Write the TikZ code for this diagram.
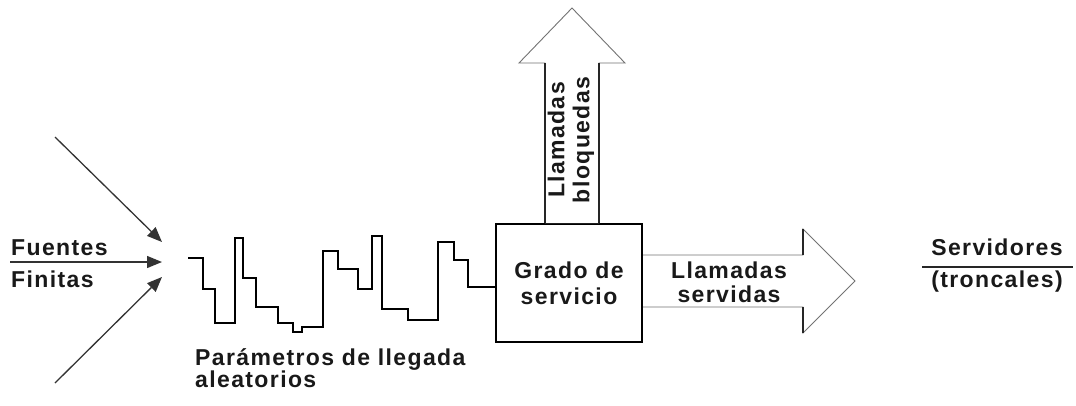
\documentclass[tikz,border=0pt]{standalone}
\usepackage{fontspec}
\setmainfont{Liberation Sans}
\newfontfamily\lblfont[LetterSpace=6]{Liberation Sans}
\usetikzlibrary{arrows.meta}
\begin{document}
\begin{tikzpicture}[x=1pt,y=-1pt,
  lbl/.style={font=\lblfont\fontsize{23}{26}\selectfont\bfseries, inner sep=0pt, text=black!90},
  feed/.style={draw=black!80, line width=1.3pt, -{Triangle[length=15pt,width=12pt]}},
  bigarrow/.style={draw=black!55, line width=0.9pt, fill=white},
  wave/.style={draw=black, line width=2pt, line join=miter}]
\useasboundingbox (0,0) rectangle (1076,405);

% Box
\node[draw=black, line width=2pt, minimum width=146pt, minimum height=118pt, inner sep=0pt,
      align=center, font=\lblfont\fontsize{23}{26}\selectfont\bfseries, text=black!90] (box) at (569,283) {Grado de\\servicio};

% Up arrow (blocked calls)
\draw[bigarrow] (box.north -| 545,0) -- (545,63) -- (519,63) -- (572,8) -- (625,63) -- (599,63) -- (box.north -| 599,0);
\draw[draw=black!85, line width=1.4pt] (box.north -| 545,0) -- (545,63) (box.north -| 599,0) -- (599,63);
\node[lbl, rotate=90, align=center, font=\lblfont\fontsize{23}{25}\selectfont\bfseries] (blq) at (571,140) {Llamadas\\bloquedas};

% Right arrow (served calls)
\draw[bigarrow] (box.east |- 0,255) -- (803,255) -- (803,229) -- (855,281) -- (803,333) -- (803,307) -- (box.east |- 0,307);
\draw[draw=black!85, line width=1.4pt] (803,255) -- (803,229) (803,307) -- (803,333);
\node[lbl, anchor=base] (ll1) at (729,278) {Llamadas};
\node[lbl, anchor=base] (ll2) at (729,302) {servidas};

% Sources
\coordinate (t1) at (162,242);
\coordinate (t2) at (162,262);
\coordinate (t3) at (162,277);
\coordinate (s1) at (55,137);
\coordinate (s2) at (10,262);
\coordinate (s3) at (55,383);
\draw[feed] (s1) -- (t1);
\draw[feed] (s2) -- (t2);
\draw[feed] (s3) -- (t3);
\node[lbl, anchor=base west] (fu) at (11,255) {Fuentes};
\node[lbl, anchor=base west] (fi) at (11,287) {Finitas};

% Random arrival waveform
\coordinate (w0) at (188,258);
\draw[wave] (w0) -- (203,258) -- (203,289) -- (215,289) -- (215,323) -- (235,323)
  -- (235,238) -- (243,238) -- (243,278) -- (256,278) -- (256,307) -- (278,307)
  -- (278,323) -- (293,323) -- (293,332) -- (302,332) -- (302,327) -- (323,327)
  -- (323,251) -- (338,251) -- (338,269) -- (358,269) -- (358,289) -- (372,289)
  -- (372,236) -- (382,236) -- (382,309) -- (408,309) -- (408,320) -- (438,320)
  -- (438,242) -- (454,242) -- (454,260) -- (468,260) -- (468,287) -- (box.west |- 0,287);

\node[lbl, anchor=base west] (par) at (195,365) {Parámetros de llegada};
\node[lbl, anchor=base west] (ale) at (195,387) {aleatorios};

% Servers
\coordinate (sl) at (922,267);
\coordinate (sr) at (1073,267);
\draw[draw=black!85, line width=1.8pt] (sl) -- (sr);
\node[lbl, anchor=base] (serv) at (997,255) {Servidores};
\node[lbl, anchor=base] (tron) at (997,287) {(troncales)};
\end{tikzpicture}
\end{document}
